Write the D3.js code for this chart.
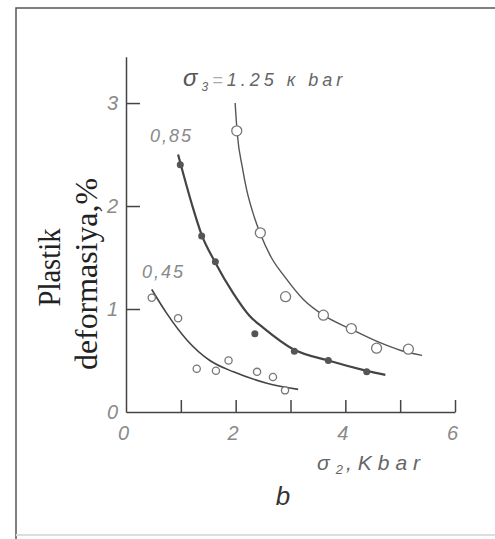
<!DOCTYPE html>
<html>
<head>
<meta charset="utf-8">
<script src="https://cdn.jsdelivr.net/npm/d3@7"></script>
<style>
  body { margin: 0; background: #fff; }
  .tick text { font-family: "Liberation Sans", sans-serif; font-style: italic; font-size: 20px; fill: #8a8a8a; }
</style>
</head>
<body>
<script>
const width = 495;
const height = 539;

// measured points, [sigma2, deformation %]
const pts125 = [[2.02, 2.73], [2.45, 1.74], [2.91, 1.12], [3.60, 0.94], [4.11, 0.81], [4.57, 0.62], [5.15, 0.61]];
const pts085 = [[0.99, 2.40], [1.38, 1.71], [1.63, 1.46], [2.35, 0.76], [3.07, 0.59], [3.69, 0.50], [4.39, 0.39]];
const pts045 = [[0.47, 1.11], [0.95, 0.91], [1.29, 0.42], [1.64, 0.40], [1.87, 0.50], [2.39, 0.39], [2.68, 0.34], [2.90, 0.21]];

// drawn curves
const fit125 = [[1.99, 3.00], [2.03, 2.70], [2.12, 2.38], [2.20, 2.16], [2.30, 1.96], [2.45, 1.73], [2.65, 1.50], [2.90, 1.31],
                [3.24, 1.09], [3.60, 0.94], [4.12, 0.80], [4.60, 0.68], [5.00, 0.60], [5.40, 0.55]];
const fit085 = [[0.95, 2.50], [1.20, 2.02], [1.38, 1.72], [1.62, 1.46], [1.96, 1.15], [2.26, 0.93], [2.50, 0.82],
                [3.05, 0.61], [3.69, 0.50], [4.39, 0.40], [4.73, 0.36]];
const fit045 = [[0.47, 1.19], [0.74, 0.96], [1.11, 0.70], [1.53, 0.50], [1.96, 0.39], [2.57, 0.28], [3.14, 0.22]];

const xTicks = [1, 2, 3, 4, 5, 6];
const xLabels = [0, 2, 4, 6];
const yTicks = [1, 2, 3];
const yLabels = [0, 1, 2, 3];

let svg = d3.select('body')
            .append('svg')
            .attr('width', width)
            .attr('height', height);

// frame
svg.append('path')
   .attr('d', 'M16,540 V8 H500')
   .attr('fill', 'none')
   .attr('stroke', '#555')
   .attr('stroke-width', 1.5);
svg.append('line')
   .attr('x1', 16).attr('x2', 495).attr('y1', 535).attr('y2', 535)
   .attr('stroke', '#ddd').attr('stroke-width', 2);

let xScale = d3.scaleLinear()
               .domain([0, 6])
               .range([126, 455]);

let yScale = d3.scaleLinear()
               .domain([0, 3.45])
               .range([412, 56.7]);

// x axis: line + inner ticks
svg.append('g')
   .attr('transform', `translate(0, ${yScale(0)})`)
   .call(d3.axisBottom(xScale).tickValues(xTicks).tickSize(-12).tickSizeOuter(0).tickFormat(''));
svg.append('g')
   .attr('transform', `translate(0, ${yScale(0)})`)
   .call(d3.axisBottom(xScale).tickValues(xLabels).tickSize(0).tickPadding(14).tickFormat(d3.format('d')))
   .call(g => g.select('.domain').remove())
   .selectAll('text').attr('dx', -3);

// y axis
svg.append('g')
   .attr('transform', `translate(${xScale(0)}, 0)`)
   .call(d3.axisLeft(yScale).tickValues(yTicks).tickSize(-14).tickSizeOuter(0).tickFormat(''));
svg.append('g')
   .attr('transform', `translate(${xScale(0)}, 0)`)
   .call(d3.axisLeft(yScale).tickValues(yLabels).tickSize(0).tickPadding(8).tickFormat(d3.format('d')))
   .call(g => g.select('.domain').remove());

svg.selectAll('.domain, .tick line')
   .attr('stroke', '#444')
   .attr('stroke-width', 1.5);

// curves
let line = d3.line()
             .x(d => xScale(d[0]))
             .y(d => yScale(d[1]))
             .curve(d3.curveMonotoneX);

svg.append('path').datum(fit125).attr('d', line)
   .attr('fill', 'none').attr('stroke', '#555').attr('stroke-width', 1.4);
svg.append('path').datum(fit085).attr('d', line)
   .attr('fill', 'none').attr('stroke', '#444').attr('stroke-width', 2.2);
svg.append('path').datum(fit045).attr('d', line)
   .attr('fill', 'none').attr('stroke', '#444').attr('stroke-width', 1.6);

// points
svg.selectAll('.p125')
   .data(pts125).enter().append('circle')
   .attr('class', 'p125')
   .attr('cx', d => xScale(d[0])).attr('cy', d => yScale(d[1]))
   .attr('r', 5)
   .attr('fill', '#fff').attr('stroke', '#777').attr('stroke-width', 1.3);

svg.selectAll('.p085')
   .data(pts085).enter().append('circle')
   .attr('class', 'p085')
   .attr('cx', d => xScale(d[0])).attr('cy', d => yScale(d[1]))
   .attr('r', 3.5)
   .attr('fill', '#555');

svg.selectAll('.p045')
   .data(pts045).enter().append('circle')
   .attr('class', 'p045')
   .attr('cx', d => xScale(d[0])).attr('cy', d => yScale(d[1]))
   .attr('r', 3.6)
   .attr('fill', '#fff').attr('stroke', '#777').attr('stroke-width', 1.3);

// series labels
let lab = svg.append('text')
   .attr('x', 183).attr('y', 86)
   .attr('font-family', 'Liberation Sans, sans-serif')
   .attr('font-style', 'italic')
   .attr('font-size', 18)
   .attr('fill', '#666')
   .attr('letter-spacing', 4);
lab.append('tspan').attr('font-size', 24).attr('fill', '#555').text('σ');
lab.append('tspan').attr('font-size', 12).attr('dy', 5).text('3');
lab.append('tspan').attr('dy', -5).attr('fill', '#aaa').text('=');
lab.append('tspan').text('1.25 к bar');

svg.append('text')
   .attr('x', 150).attr('y', 142)
   .attr('font-family', 'Liberation Sans, sans-serif')
   .attr('font-style', 'italic')
   .attr('font-size', 18)
   .attr('letter-spacing', 2)
   .attr('fill', '#8a8a8a')
   .text('0,85');

svg.append('text')
   .attr('x', 142).attr('y', 278)
   .attr('font-family', 'Liberation Sans, sans-serif')
   .attr('font-style', 'italic')
   .attr('font-size', 18)
   .attr('letter-spacing', 2)
   .attr('fill', '#8a8a8a')
   .text('0,45');

// axis titles
let xt = svg.append('text')
   .attr('x', 317).attr('y', 470)
   .attr('font-family', 'Liberation Sans, sans-serif')
   .attr('font-style', 'italic')
   .attr('font-size', 21)
   .attr('letter-spacing', 6)
   .attr('fill', '#666');
xt.append('tspan').text('σ');
xt.append('tspan').attr('font-size', 13).attr('dy', 4).attr('letter-spacing', 3).text('2');
xt.append('tspan').attr('dy', -4).text(',Kbar');

svg.append('text')
   .attr('transform', 'translate(60, 267.5) rotate(-90)')
   .attr('text-anchor', 'middle')
   .attr('font-family', 'Liberation Serif, serif')
   .attr('font-size', 31)
   .attr('textLength', 78)
   .attr('lengthAdjust', 'spacingAndGlyphs')
   .attr('fill', '#222')
   .text('Plastik');

svg.append('text')
   .attr('transform', 'translate(97, 274) rotate(-90)')
   .attr('text-anchor', 'middle')
   .attr('font-family', 'Liberation Serif, serif')
   .attr('font-size', 31)
   .attr('textLength', 192)
   .attr('lengthAdjust', 'spacingAndGlyphs')
   .attr('fill', '#222')
   .text('deformasiya,%');

svg.append('text')
   .attr('x', 283).attr('y', 505)
   .attr('text-anchor', 'middle')
   .attr('font-family', 'Liberation Sans, sans-serif')
   .attr('font-style', 'italic')
   .attr('font-size', 26)
   .attr('fill', '#333')
   .text('b');
</script>
</body>
</html>
